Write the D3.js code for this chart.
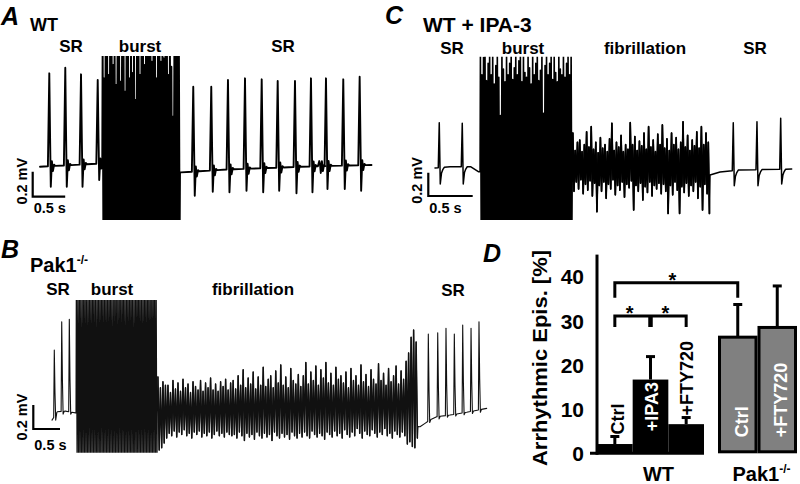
<!DOCTYPE html>
<html><head><meta charset="utf-8">
<script src="https://cdn.jsdelivr.net/npm/d3@7"></script>
<style>
body{margin:0;background:#fff}
svg{display:block}
text{font-family:"Liberation Sans",Arial,Helvetica,sans-serif;font-weight:bold;fill:#000}
</style></head>
<body><svg id="c" width="800" height="484"></svg>
<script>
// ================= DATA =================
// Panel A (WT) : time in s, voltage in mV
const aBaseline = [[0,0],[0.45,0.012],[0.93,0.026],[2.17,-0.045],[2.35,-0.04],[2.89,-0.022],[3.38,-0.013],[4.15,0.002],[5.1,0.014]];
const aSpikeT      = [0.143,0.389,0.631,0.888,2.358,2.635,2.892,3.154,3.411,3.657,3.923,4.169,4.297,4.4,4.666,4.918];
const aSpikePeak   = [0.747,0.792,0.739,0.694,0.64,0.64,0.694,0.707,0.699,0.686,0.686,0.707,0.045,0.707,0.699,0.72];
const aSpikeTrough = [-0.16,-0.16,-0.16,-0.106,-0.232,-0.2,-0.205,-0.192,-0.205,-0.192,-0.213,-0.205,-0.05,-0.178,-0.178,-0.192];
const aBurstSpan = [0.958, 2.154];
const aBurstPeaks = [1.0,0.707,1.0,1.0,0.734,1.0,1.0,0.814,1.0,0.654,1.0,1.0,0.68,1.0,0.95,0.6,1.0,1.0,0.707,1.0,0.75,1.0,0.534,1.0,1.0,0.734,1.0,1.0,0.814,1.0,1.0,0.9,1.0,0.84,1.0,1.0,0.707,1.0,1.0,0.84,1.0,0.867,1.0,1.0,0.734,1.0,0.8,0.4,1.0,1.0,1.0,1.0];
const aBurstFloor = -0.6;

// Panel C (WT + IPA-3)
const cBaseline = [[0,0],[0.17,0.01],[0.4,0.011],[0.488,-0.032],[3.097,-0.06],[3.21,-0.034],[3.43,-0.017],[4.017,-0.009]];
const cSpikeT      = [0.048,0.307,3.359,3.626,3.893];
const cSpikePeak   = [0.389,0.384,0.389,0.397,0.427];
const cSpikeTrough = [-0.137,-0.137,-0.152,-0.152,-0.137];
const cBurstSpan = [0.507, 1.546];
const cBurstPeaks = [1.1,0.8,0.95,1.1,0.75,0.9,1.1,0.8,1.1,0.72,0.88,1.1,0.78,0.45,1.1,0.85,0.74,1.1,0.8,0.9,1.1,0.76,0.86,1.1,0.8,0.92,1.1,0.74,1.1,0.82,0.78,1.1,0.86,0.72,1.1,0.8,0.9,1.1,0.75,0.84,1.1,0.47,0.88,1.1,0.8,0.9,1.1,0.76,1.1,0.82,0.74,1.1,0.85,0.8,1.1,0.78,0.9,1.1,0.8,1.1];
const cBurstFloor = -0.6;
const cFibSpan = [1.546, 3.097];
const cFibPeaks   = [0.3,0.15,0.22,0.24,0.14,0.2,0.31,0.18,0.355,0.16,0.22,0.13,0.26,0.17,0.2,0.14,0.25,0.384,0.15,0.22,0.18,0.28,0.14,0.2,0.16,0.389,0.2,0.27,0.15,0.23,0.19,0.3,0.16,0.355,0.18,0.24,0.14,0.29,0.2,0.37,0.17,0.25,0.15,0.3,0.2,0.26,0.16,0.22,0.397,0.18,0.28,0.15,0.24,0.19,0.31,0.17,0.355,0.2,0.3,0.22];
const cFibTroughs = [-0.2,-0.12,-0.18,-0.1,-0.22,-0.14,-0.19,-0.11,-0.24,-0.13,-0.375,-0.15,-0.2,-0.12,-0.26,-0.14,-0.18,-0.1,-0.23,-0.15,-0.19,-0.12,-0.25,-0.14,-0.17,-0.11,-0.36,-0.15,-0.2,-0.13,-0.275,-0.16,-0.21,-0.12,-0.24,-0.15,-0.18,-0.13,-0.22,-0.14,-0.2,-0.39,-0.15,-0.23,-0.12,-0.19,-0.39,-0.16,-0.21,-0.13,-0.24,-0.15,-0.2,-0.12,-0.26,-0.16,-0.36,-0.14,-0.22,-0.39];

// Panel B (Pak1-/-)
const bBaseline = [[0,-0.07],[0.1,0.0],[0.25,0.005],[0.44,-0.01],[6.891,-0.125],[6.985,-0.097],[7.079,-0.069],[7.204,-0.042],[7.453,-0.028],[7.766,-0.005],[8.14,0.028]];
const bSpikeT      = [0.043,0.182,0.324,7.047,7.223,7.378,7.534,7.691,7.847,7.996];
const bSpikePeak   = [0.514,0.75,0.77,0.648,0.658,0.695,0.648,0.723,0.695,0.75];
const bSpikeTrough = [-0.07,-0.02,-0.02,-0.09,-0.06,-0.045,-0.035,-0.025,-0.015,-0.005];
const bBurstSpan = [0.449, 1.972];
const bBurstPeaks = [1.3,1.1,1.25,1.2,1.05,1.3,1.15,1.2,1.1,1.28,1.12,1.22,1.3,1.08,1.18,1.25,1.1,1.3,1.2,1.15,1.26,1.1,1.3,1.18,1.22,1.05,1.3,1.2,1.12,1.28,1.15,1.22,1.3,1.1,1.2,1.26,1.12,1.3,1.18,1.08,1.25,1.2,1.3,1.15,1.22,1.1,1.28,1.2,1.16,1.3,1.1,1.24,1.2,1.3,1.15];
const bBurstFloor = -0.6;
const bFibSpan = [1.972, 6.854];
const bFibPeaks = [0.29,0.2,0.25,0.22,
 0.22,0.16,0.26,0.19,0.24,0.17,0.27,0.2,0.23,0.16,0.25,0.21,0.18,0.26,0.17,0.24,0.2,0.28,0.18,0.23,0.17,0.25,0.21,0.27,0.18,0.24,
 0.26,0.19,0.3,0.22,0.35,0.2,0.28,0.23,0.33,0.19,0.29,0.22,0.37,0.21,0.27,0.3,0.2,0.34,0.24,0.39,0.22,0.29,0.2,0.36,0.26,0.23,0.31,0.21,
 0.3,0.41,0.23,0.33,0.26,0.38,0.22,0.35,0.28,0.41,0.24,0.32,0.22,0.37,0.27,0.3,
 0.24,0.33,0.2,0.36,0.26,0.3,0.22,0.39,0.25,0.31,0.21,0.35,0.27,0.23,0.4,0.26,0.32,0.22,0.36,0.25,0.3,0.38,0.23,0.34,0.27,0.42,0.49,
 0.62,0.68,0.58];
const bFibTroughs = [-0.32,-0.3,-0.26,-0.22,
 -0.18,-0.2,-0.16,-0.21,-0.17,-0.19,-0.15,-0.2,-0.18,-0.22,-0.17,-0.19,-0.16,-0.21,-0.18,-0.2,-0.17,-0.22,-0.19,-0.16,-0.2,-0.18,-0.21,-0.17,-0.19,-0.2,
 -0.19,-0.22,-0.17,-0.2,-0.24,-0.18,-0.21,-0.19,-0.23,-0.17,-0.2,-0.22,-0.18,-0.21,-0.19,-0.24,-0.17,-0.2,-0.22,-0.18,-0.21,-0.19,-0.23,-0.17,-0.2,-0.22,-0.18,-0.21,
 -0.17,-0.2,-0.22,-0.16,-0.19,-0.21,-0.18,-0.2,-0.23,-0.17,-0.19,-0.21,-0.16,-0.2,-0.18,-0.22,
 -0.15,-0.19,-0.21,-0.17,-0.2,-0.14,-0.18,-0.22,-0.16,-0.19,-0.2,-0.15,-0.18,-0.21,-0.17,-0.19,-0.14,-0.2,-0.18,-0.22,-0.16,-0.19,-0.21,-0.17,-0.2,-0.27,-0.25,
 -0.29,-0.3,-0.22];

// Panel D (bar chart)
const wtConds   = ["Ctrl","+IPA3","+FTY720"];
const wtValues  = [2.1,16.7,6.6];
const wtErrors  = [1.7,5.2,1.5];
const pakConds  = ["Ctrl","+FTY720"];
const pakValues = [26.3,28.5];
const pakErrors = [7.4,9.4];
const yTicks    = [0,10,20,30,40];
const yLabel    = "Arrhythmic Epis. [%]";
const sigBrackets = [
  {from:["WT","Ctrl"], to:["Pak1","Ctrl"], mid:null, level:38.6, drop:3.4},
  {from:["WT","Ctrl"], to:["WT","+FTY720"], mid:["WT","+IPA3"], level:31.1, drop:2.5}
];

// ================= DRAWING =================
const svg = d3.select("#c");
const defs = svg.append("defs");

function drawTrace(o){
  const pxs = o.x(1) - o.x(0);
  const base = d3.scaleLinear().domain(o.baseline.map(d=>d[0])).range(o.baseline.map(d=>d[1])).clamp(true);
  const events = [];
  o.spikeT.forEach((t,i)=>{
    const b = base(t), p = o.spikePeak[i], q = o.spikeTrough[i];
    const pts = o.shape.map(s=>{
      const tt = t + s[0]/pxs;
      let v;
      if (s[1]==='p') v = p;
      else if (s[1]==='q') v = q;
      else if (s[1]==='f') v = b + s[2]*(p-b);
      else v = base(tt) + s[2];
      return [tt,v];
    });
    events.push({t0:pts[0][0], t1:pts[pts.length-1][0], pts});
  });
  const overlays = [];
  o.blocks.forEach(bl=>{
    const n = bl.peaks.length, dt = (bl.span[1]-bl.span[0])/n;
    const pts = [[bl.span[0], base(bl.span[0])]];
    bl.peaks.forEach((pk,i)=>{
      pts.push([bl.span[0]+(i+0.25)*dt, pk]);
      pts.push([bl.span[0]+(i+0.75)*dt, bl.troughs ? bl.troughs[i] : bl.floor]);
    });
    pts.push([bl.span[1], base(bl.span[1])]);
    events.push({t0:bl.span[0], t1:bl.span[1], pts});
    if (bl.sw) overlays.push({pts:pts.slice(1,-1), sw:bl.sw});
  });
  o.baseline.forEach(([t,v])=>{
    if (!events.some(e=>t>=e.t0-1e-6 && t<=e.t1+1e-6)) events.push({t0:t,t1:t,pts:[[t,v]]});
  });
  events.sort((a,b)=>a.t0-b.t0);
  const pts = [].concat(...events.map(e=>e.pts));
  const cid = "clip"+o.id;
  defs.append("clipPath").attr("id",cid).append("rect")
    .attr("x",o.x.range()[0]-6).attr("width",o.x.range()[1]-o.x.range()[0]+12)
    .attr("y",o.clipY[0]).attr("height",o.clipY[1]-o.clipY[0]);
  const line = d3.line().x(d=>o.x(d[0])).y(d=>o.y(d[1]));
  const g = svg.append("g").attr("clip-path",`url(#${cid})`);
  g.append("path").attr("d", line(pts))
    .attr("fill","none").attr("stroke",o.color||"#000").attr("stroke-width",o.sw)
    .attr("stroke-linejoin","round").attr("stroke-linecap","round");
  overlays.forEach(ov=>{
    g.append("path").attr("d", line(ov.pts))
      .attr("fill","none").attr("stroke",o.color||"#000").attr("stroke-width",ov.sw)
      .attr("stroke-linejoin","round").attr("stroke-linecap","round");
  });
}

function scaleBar(o){
  const lx = o.x(0.5)-o.x(0), ly = o.y(0)-o.y(0.2);
  const [cx,cy] = o.corner;
  svg.append("path").attr("d",`M${cx},${cy-ly}V${cy}H${cx+lx}`)
    .attr("fill","none").attr("stroke","#000").attr("stroke-width",2.2);
  svg.append("text").attr("x",cx+1).attr("y",cy+o.sDy).attr("font-size",14.5).text("0.5 s");
  svg.append("text").attr("transform",`translate(${cx-6},${cy-ly/2+o.mvDy}) rotate(-90)`)
    .attr("text-anchor","middle").attr("font-size",14.5).text("0.2 mV");
}

function label(x,y,t,size,anchor,italic){
  return svg.append("text").attr("x",x).attr("y",y).attr("font-size",size)
    .attr("text-anchor",anchor||"middle").attr("font-style",italic?"italic":"normal").text(t);
}

// ---- Panel A
const xA = d3.scaleLinear().domain([0,5.108]).range([40,372]);
const yA = d3.scaleLinear().domain([0,1]).range([166.7,41.7]);
drawTrace({id:"A",x:xA,y:yA,baseline:aBaseline,spikeT:aSpikeT,spikePeak:aSpikePeak,spikeTrough:aSpikeTrough,
  blocks:[{span:aBurstSpan,peaks:aBurstPeaks,floor:aBurstFloor}],
  shape:[[-1.4,'b',0],[0,'p'],[0.8,'f',0.3],[1.5,'q'],[2.6,'b',0.04],[3.6,'b',-0.04],[4.8,'b',0.01],[6,'b',0]],
  clipY:[56,220],sw:1.9});
scaleBar({x:xA,y:yA,corner:[32.7,196.7],sDy:16.5,mvDy:-3});
label(1,25,"A",25,"start",true);
label(30,31,"WT",18,"start");
label(71,52,"SR",17); label(140,52,"burst",17); label(283,52,"SR",17);

// ---- Panel C
const xC = d3.scaleLinear().domain([0,4.017]).range([435,791.7]);
const yC = d3.scaleLinear().domain([0,1]).range([168,51.5]);
drawTrace({id:"C",x:xC,y:yC,baseline:cBaseline,spikeT:cSpikeT,spikePeak:cSpikePeak,spikeTrough:cSpikeTrough,
  blocks:[{span:cBurstSpan,peaks:cBurstPeaks,floor:cBurstFloor},{span:cFibSpan,peaks:cFibPeaks,troughs:cFibTroughs,sw:1.7}],
  shape:[[-1,'b',0],[0,'p'],[1,'q'],[2.2,'b',-0.05],[3.5,'b',-0.02],[5,'b',0]],
  clipY:[56.7,220],sw:1.5});
scaleBar({x:xC,y:yC,corner:[428.3,196],sDy:17,mvDy:-4});
label(385,24,"C",25,"start",true);
label(423,32,"WT + IPA-3",21,"start");
label(452,54,"SR",17); label(523,54,"burst",17); label(645,54,"fibrillation",17); label(755,54,"SR",17);

// ---- Panel B
const xB = d3.scaleLinear().domain([0,8.146]).range([52,487]);
const yB = d3.scaleLinear().domain([0,1]).range([411.7,291.7]);
drawTrace({id:"B",x:xB,y:yB,baseline:bBaseline,spikeT:bSpikeT,spikePeak:bSpikePeak,spikeTrough:bSpikeTrough,
  blocks:[{span:bBurstSpan,peaks:bBurstPeaks,floor:bBurstFloor},{span:bFibSpan,peaks:bFibPeaks,troughs:bFibTroughs,sw:1.5}],
  shape:[[-0.6,'b',0],[0,'p'],[0.7,'f',0.35],[1.4,'q'],[2.5,'b',0]],
  clipY:[300,452.7],sw:1.1,color:"#111"});
scaleBar({x:xB,y:yB,corner:[33.3,429],sDy:21,mvDy:0});
label(1,258,"B",25,"start",true);
const pk = label(30,272,"Pak1",20,"start");
pk.append("tspan").attr("font-size",12).attr("dy",-8).text("-/-");
label(58,295,"SR",17); label(112,295,"burst",17); label(253,295,"fibrillation",17); label(453,296,"SR",17);

// ---- Panel D
label(483,262,"D",25,"start",true);
const yD = d3.scaleLinear().domain([0,45]).range([453.3,254.6]);
const groupRange = {WT:[597,704], Pak1:[718,797]};
const groupConds = {WT:wtConds, Pak1:pakConds};
const bands = {};
Object.keys(groupRange).forEach(g=>{
  bands[g] = d3.scaleBand().domain(groupConds[g]).range(groupRange[g]).paddingInner(0).paddingOuter(0);
});
const cx = (g,c)=> bands[g](c) + bands[g].bandwidth()/2;

// axes
svg.append("line").attr("x1",597).attr("x2",597).attr("y1",yD(45)).attr("y2",yD(0)+1.5)
  .attr("stroke","#000").attr("stroke-width",3);
svg.append("line").attr("x1",590).attr("x2",groupRange.WT[1]).attr("y1",yD(0)).attr("y2",yD(0))
  .attr("stroke","#000").attr("stroke-width",3);
yTicks.forEach(t=>{
  svg.append("text").attr("x",584).attr("y",yD(t)+7.8).attr("text-anchor","end").attr("font-size",21).text(t);
});
svg.append("text").attr("transform",`translate(547,358) rotate(-90)`).attr("text-anchor","middle")
  .attr("font-size",21).attr("textLength",216).attr("lengthAdjust","spacingAndGlyphs").text(yLabel);

// WT bars
wtConds.forEach((c,i)=>{
  svg.append("rect").attr("x",bands.WT(c)).attr("width",bands.WT.bandwidth())
    .attr("y",yD(wtValues[i])).attr("height",yD(0)-yD(wtValues[i])).attr("fill","#000");
});
// Pak bars
pakConds.forEach((c,i)=>{
  svg.append("rect").attr("x",bands.Pak1(c)+1.5).attr("width",bands.Pak1.bandwidth()-3)
    .attr("y",yD(pakValues[i])).attr("height",yD(0)-yD(pakValues[i])-1.5)
    .attr("fill","#808080").attr("stroke","#000").attr("stroke-width",3);
});
// error bars
function errBar(g,c,v,e){
  const x = cx(g,c);
  svg.append("line").attr("x1",x).attr("x2",x).attr("y1",yD(v)).attr("y2",yD(v+e)).attr("stroke","#000").attr("stroke-width",3);
  svg.append("line").attr("x1",x-4.5).attr("x2",x+4.5).attr("y1",yD(v+e)).attr("y2",yD(v+e)).attr("stroke","#000").attr("stroke-width",3);
}
wtConds.forEach((c,i)=>errBar("WT",c,wtValues[i],wtErrors[i]));
pakConds.forEach((c,i)=>errBar("Pak1",c,pakValues[i],pakErrors[i]));

// bar labels
function barLabel(g,c,v,e,inside,dx){
  const x = cx(g,c)+7+dx;
  const y = inside ? yD(0)-(g==="WT"?22:16) : yD(v+e)-2;
  svg.append("text").attr("transform",`translate(${x},${y}) rotate(-90)`).attr("font-size",18)
    .style("fill",inside?"#fff":"#000").text(c);
}
wtConds.forEach((c,i)=>barLabel("WT",c,wtValues[i],wtErrors[i], wtValues[i]>12, i===0?2:0));
pakConds.forEach((c,i)=>barLabel("Pak1",c,pakValues[i],pakErrors[i], true, 3));

// significance brackets
sigBrackets.forEach(b=>{
  const x1 = cx(b.from[0],b.from[1]), x2 = cx(b.to[0],b.to[1]);
  const yl = yD(b.level), yd = yD(b.level-b.drop);
  svg.append("path").attr("d",`M${x1},${yd}V${yl}H${x2}V${yd}`).attr("fill","none")
    .attr("stroke","#000").attr("stroke-width",3).attr("stroke-linejoin","miter");
  if (b.mid){
    const xm = cx(b.mid[0],b.mid[1]);
    svg.append("line").attr("x1",xm).attr("x2",xm).attr("y1",yl).attr("y2",yd).attr("stroke","#000").attr("stroke-width",4.5);
    label((x1+xm)/2-3, yl+4, "*", 20);
    label((xm+x2)/2-3, yl+4, "*", 20);
  } else {
    label((x1+x2)/2-4, yl+4, "*", 20);
  }
});

// group labels
label((groupRange.WT[0]+groupRange.WT[1])/2+8, 481, "WT", 20);
const pg = label((groupRange.Pak1[0]+groupRange.Pak1[1])/2+4, 481, "Pak1", 20);
pg.append("tspan").attr("font-size",12).attr("dy",-8).text("-/-");
</script></body></html>
